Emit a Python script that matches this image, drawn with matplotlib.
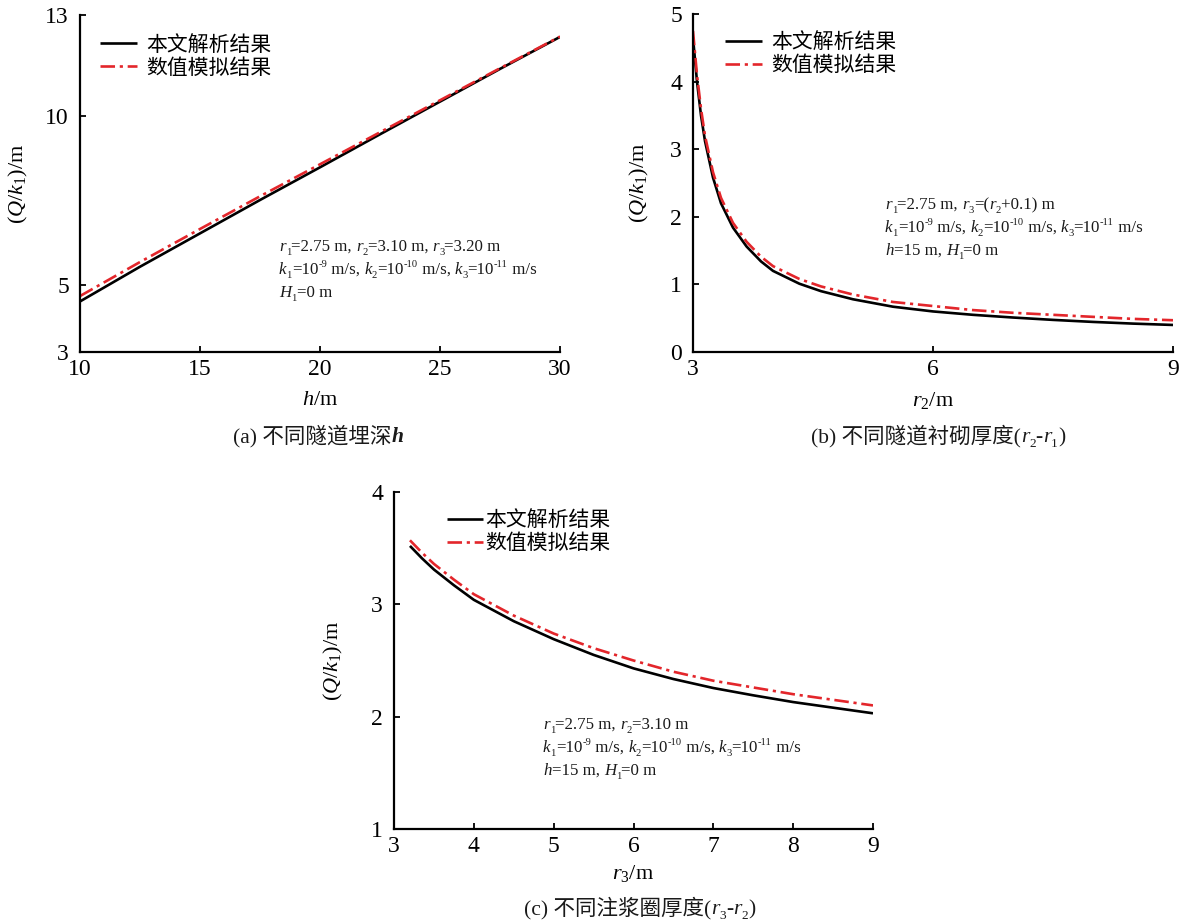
import re
import matplotlib
matplotlib.use("Agg")
import matplotlib.pyplot as plt

plt.rcParams['font.family'] = ['Liberation Serif', 'Noto Sans CJK SC']
plt.rcParams['mathtext.fontset'] = 'custom'
plt.rcParams['mathtext.rm'] = 'Liberation Serif'
plt.rcParams['mathtext.it'] = 'Liberation Serif:italic'
plt.rcParams['mathtext.bf'] = 'Liberation Serif:bold'

# (a) burial depth h
h_vals = [10, 12.5, 15, 17.5, 20, 22.5, 25, 27.5, 30]
qa_analytic = [4.50, 5.53, 6.52, 7.51, 8.48, 9.46, 10.43, 11.40, 12.35]
qa_numeric = [4.66, 5.67, 6.65, 7.62, 8.57, 9.52, 10.47, 11.42, 12.36]

# (b) lining outer radius r2
r2_vals = [3.0, 3.05, 3.1, 3.15, 3.25, 3.35, 3.5, 3.67, 3.85, 4.0, 4.33, 4.6,
           5.0, 5.5, 6.0, 6.5, 7.0, 7.5, 8.0, 8.5, 9.0]
qb_analytic = [4.65, 4.0, 3.5, 3.12, 2.58, 2.2, 1.84, 1.56, 1.34, 1.2, 1.01, 0.9,
               0.78, 0.67, 0.60, 0.55, 0.51, 0.475, 0.445, 0.42, 0.40]
qb_numeric = [4.75, 4.1, 3.6, 3.2, 2.66, 2.28, 1.91, 1.63, 1.41, 1.27, 1.08, 0.97,
              0.85, 0.74, 0.68, 0.62, 0.58, 0.55, 0.52, 0.49, 0.47]

# (c) grouting ring outer radius r3
r3_vals = [3.2, 3.35, 3.5, 3.75, 4, 4.5, 5, 5.5, 6, 6.5, 7, 7.5, 8, 8.5, 9]
qc_analytic = [3.52, 3.41, 3.31, 3.17, 3.04, 2.85, 2.69, 2.55, 2.43, 2.335, 2.255,
               2.19, 2.13, 2.08, 2.03]
qc_numeric = [3.57, 3.46, 3.36, 3.22, 3.09, 2.90, 2.74, 2.61, 2.50, 2.40, 2.32,
              2.26, 2.20, 2.15, 2.10]

legend_labels = ['本文解析结果', '数值模拟结果']

W, H = 1191, 924
fig = plt.figure(figsize=(W / 100, H / 100), dpi=100)
renderer = fig.canvas.get_renderer()


def px_axes(left, top, right, bottom):
    return fig.add_axes([left / W, 1 - bottom / H, (right - left) / W, (bottom - top) / H])


RED = '#E3262B'
TICK_FS = 17
LABEL_FS = 16
NOTE_FS = 12.2
CAP_FS = 15.5
CJK = ['Noto Sans CJK SC', 'Liberation Serif']
SERIF = ['Liberation Serif', 'Noto Sans CJK SC']


def style(ax, xlim, ylim, xticks, yticks):
    ax.set_xlim(*xlim)
    ax.set_ylim(*ylim)
    ax.set_xticks(xticks)
    ax.set_yticks(yticks)
    for s in ('top', 'right'):
        ax.spines[s].set_visible(False)
    for s in ('left', 'bottom'):
        ax.spines[s].set_linewidth(1.6)
    ax.tick_params(direction='in', length=4, width=1.3, labelsize=TICK_FS)
    ax.tick_params(axis='x', pad=5)
    ax.tick_params(axis='y', pad=8)


def draw(ax, x, ya, yn):
    ax.plot(x, ya, color='black', lw=1.9, solid_capstyle='butt', label=legend_labels[0])
    ax.plot(x, yn, color=RED, lw=1.9, dashes=(5.5, 1.8, 1.2, 1.8), label=legend_labels[1])


def legend(ax, x, y, pad):
    ax.legend(loc='upper left', bbox_to_anchor=(x, y), frameon=False, borderaxespad=0,
              borderpad=0, handlelength=1.75, handletextpad=pad, labelspacing=0.05,
              prop={'family': CJK, 'size': 15})


def labels(ax, xlabel, xpad, ylabel_x):
    ax.set_xlabel(xlabel, fontsize=LABEL_FS, labelpad=xpad)
    ax.set_ylabel(r'$(Q/k_1)$/m', fontsize=LABEL_FS)
    ax.yaxis.set_label_coords(ylabel_x, 0.5)


# Rich-text runs: [..] italic, <..> bold italic, _{..} subscript, ^{..} superscript
TOKEN = re.compile(r'_\{([^}]*)\}|\^\{([^}]*)\}|\[([^\]]*)\]|<([^>]*)>|([^_\^\[<]+)')


def parse(markup):
    out = []
    for m in TOKEN.finditer(markup):
        sub, sup, it, bi, rm = m.groups()
        if sub is not None:
            out.append((sub, 'sub'))
        elif sup is not None:
            out.append((sup, 'sup'))
        elif it is not None:
            out.append((it, 'it'))
        elif bi is not None:
            out.append((bi, 'bi'))
        else:
            out.append((rm, 'rm'))
    return out


def run_props(kind, size):
    fs = size * 0.62 if kind in ('sub', 'sup') else size
    st = 'italic' if kind in ('it', 'bi') else 'normal'
    wt = 'bold' if kind == 'bi' else 'normal'
    dy = {'sub': -0.22, 'sup': 0.40}.get(kind, 0.0) * size * 100 / 72
    return fs, st, wt, dy


def text_width(s, fs, st, wt):
    probe = fig.text(0, 0, '|' + s + '|', fontsize=fs, style=st, weight=wt, family=SERIF)
    bar = fig.text(0, 0, '||', fontsize=fs, style=st, weight=wt, family=SERIF)
    w = probe.get_window_extent(renderer).width - bar.get_window_extent(renderer).width
    probe.remove()
    bar.remove()
    return w


def rich(x, y, markup, size, ha='left', color='#1a1a1a'):
    """Draw markup with its baseline at pixel (x, y) measured from the top-left."""
    parts = parse(markup)
    widths = [text_width(s, *run_props(k, size)[:3]) for s, k in parts]
    total = sum(widths)
    cur = x - total / 2 if ha == 'center' else x
    for (s, k), w in zip(parts, widths):
        fs, st, wt, dy = run_props(k, size)
        fig.text(cur / W, 1 - (y - dy) / H, s, fontsize=fs, style=st, weight=wt,
                 family=SERIF, va='baseline', ha='left', color=color)
        cur += w


# panel (a)
ax1 = px_axes(80, 15, 560, 352)
style(ax1, (10, 30), (3, 13), [10, 15, 20, 25, 30], [3, 5, 10, 13])
draw(ax1, h_vals, qa_analytic, qa_numeric)
legend(ax1, 0.042, 0.945, 0.45)
labels(ax1, r'$h$/m', 8, -0.104)

# panel (b)
ax2 = px_axes(693, 14, 1173, 352)
style(ax2, (3, 9), (0, 5), [3, 6, 9], [0, 1, 2, 3, 4, 5])
draw(ax2, r2_vals, qb_analytic, qb_numeric)
legend(ax2, 0.067, 0.95, 0.45)
labels(ax2, r'$r_2$/m', 7, -0.0875)

# panel (c)
ax3 = px_axes(394, 492, 873, 829)
style(ax3, (3, 9), (1, 4), [3, 4, 5, 6, 7, 8, 9], [1, 2, 3, 4])
draw(ax3, r3_vals, qc_analytic, qc_numeric)
legend(ax3, 0.11, 0.95, 0.1)
labels(ax3, r'$r_3$/m', 4, -0.102)

# parameter notes
k_line = '[k]_{1}=10^{-9} m/s, [k]_{2}=10^{-10} m/s, [k]_{3}=10^{-11} m/s'
notes = [
    (279, 251, ['[r]_{1}=2.75 m, [r]_{2}=3.10 m, [r]_{3}=3.20 m', k_line, '[H]_{1}=0 m']),
    (885, 209, ['[r]_{1}=2.75 m, [r]_{3}=([r]_{2}+0.1) m', k_line, '[h]=15 m, [H]_{1}=0 m']),
    (543, 729, ['[r]_{1}=2.75 m, [r]_{2}=3.10 m', k_line, '[h]=15 m, [H]_{1}=0 m']),
]
for nx, ny, lines in notes:
    for i, line in enumerate(lines):
        rich(nx, ny + i * 23, line, NOTE_FS)

# captions
rich(318, 442, '(a) 不同隧道埋深<h>', CAP_FS, ha='center')
rich(938, 442, '(b) 不同隧道衬砌厚度([r]_{2}-[r]_{1})', CAP_FS, ha='center')
rich(640, 914, '(c) 不同注浆圈厚度([r]_{3}-[r]_{2})', CAP_FS, ha='center')

fig.savefig('out.png', dpi=100)
